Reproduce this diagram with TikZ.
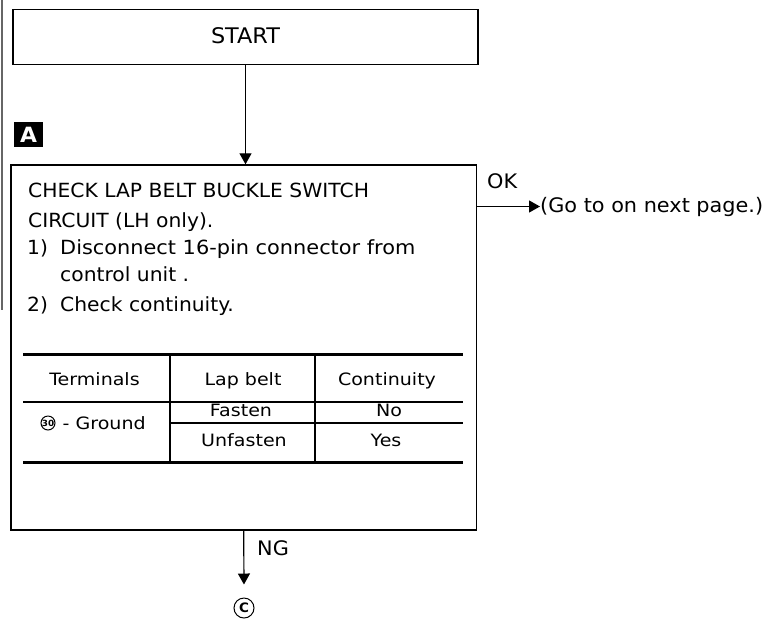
\documentclass[tikz,border=0pt]{standalone}
\usepackage{fontspec}
\setmainfont{DejaVu Sans}[FakeStretch=1.04]
\usepackage{tikz}
\usetikzlibrary{arrows.meta, positioning}
\tikzset{
  flowbox/.style={
    rectangle, draw=black, line width=1.4pt,
    inner sep=0pt, font=\fontsize{21.5}{24}\selectfont
  },
  flowarrow/.style={-{Triangle[length=11pt, width=12pt]}, line width=1.2pt},
  linetext/.style={anchor=base west, inner sep=0pt, font=\fontsize{19.5}{22}\selectfont},
  celltext/.style={anchor=base, inner sep=0pt,
    font=\fontsize{17}{20}\selectfont\addfontfeature{FakeStretch=1.12}},
  thickrule/.style={line width=3pt},
  thinrule/.style={line width=1.1pt},
  circnum/.style={
    circle, draw, line width=1pt, inner sep=0pt,
    minimum size=#1, font=\fontsize{8.5}{9}\selectfont\bfseries
  },
  tagbox/.style={
    rectangle, fill=black, text=white, inner sep=0pt,
    minimum width=29pt, minimum height=25pt,
    font=\fontsize{21}{22}\selectfont\bfseries
  },
}

\begin{document}
\begin{tikzpicture}[x=1pt, y=-1pt]
  \useasboundingbox (0,0) rectangle (775,619);
  % edge of the page
  \draw[gray!80!black, line width=1.3pt] (2,0) -- (2,310);

  \node[flowbox, minimum width=465pt, minimum height=55pt] (start) at (245.5,36.7) {\raisebox{2.5pt}{START}};
  \node[tagbox] (tagA) at (28.5,134.5) {A};
  \node[flowbox, minimum width=465.5pt, minimum height=365pt] (chk) at (243.75,347.5) {};

  % step text
  \node[linetext] (l1) at (28,197) {CHECK LAP BELT BUCKLE SWITCH};
  \node[linetext] (l2) at (28,227) {CIRCUIT (LH only).};
  \node[linetext] (l3) at (27,254) {\makebox[33pt][l]{1)}\addfontfeature{FakeStretch=1.07}Disconnect 16-pin connector from};
  \node[linetext] (l4) at (60,281) {control unit .};
  \node[linetext] (l5) at (27,311) {\makebox[33pt][l]{2)}Check continuity.};

  % table
  \draw[thickrule] (23,354) -- (463,354);
  \draw[thinrule] (23,402) -- (463,402);
  \draw[thinrule] (170,423) -- (463,423);
  \draw[thickrule] (23,462) -- (463,462);
  \draw[thinrule] (170,354) -- (170,462);
  \draw[thinrule] (315,354) -- (315,462);
  \node[celltext] (hterm) at (94.5,385) {Terminals};
  \node[celltext] (hbelt) at (243,385) {Lap belt};
  \node[celltext] (hcont) at (387,385) {Continuity};
  \node[circnum=14pt] (t30) at (48,423) {30};
  \node[celltext, anchor=west, right=7pt of t30] (gnd) {- Ground};
  \node[celltext] (fst) at (241,416.5) {Fasten};
  \node[celltext] (no) at (389,416.5) {No};
  \node[celltext] (unf) at (244,446) {Unfasten};
  \node[celltext] (yes) at (386,446) {Yes};

  % OK branch
  \node[linetext, font=\fontsize{20}{22}\selectfont] (ok) at (487,188) {OK};
  \node[linetext, font=\fontsize{20}{22}\selectfont] (next) at (540,212) {(Go to on next page.)};

  % NG branch
  \node[linetext, font=\fontsize{20}{22}\selectfont] (ng) at (257,555) {NG};
  \node[circnum=20pt, font=\fontsize{13}{14}\selectfont\bfseries] (cc) at (244,608) {C};

  \draw[flowarrow] (start.south) -- (start.south |- chk.north);
  \draw[flowarrow] (next.west -| chk.east) -- (next.west);
  \draw[flowarrow, shorten >=13pt] (chk.south) -- (cc.north);
\end{tikzpicture}
\end{document}
